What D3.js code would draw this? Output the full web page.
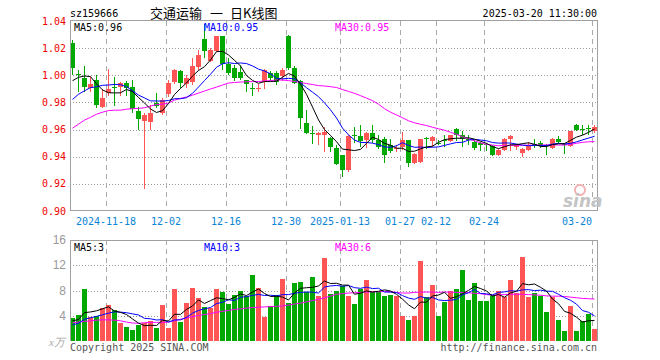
<!DOCTYPE html>
<html lang="zh">
<head>
<meta charset="utf-8">
<title>交通运输 日K线图</title>
<script src="https://d3js.org/d3.v7.min.js"></script>
<style>
body { margin: 0; background: #fff; }
svg { font-family: "DejaVu Sans Mono", monospace; font-size: 10px; shape-rendering: crispEdges; }
</style>
</head>
<body>
<script>
// trading days, 2024-11-08 .. 2025-03-20
const dates = [
  "11-08","11-11","11-12","11-13","11-14","11-15","11-18","11-19","11-20","11-21","11-22","11-25","11-26","11-27","11-28","11-29",
  "12-02","12-03","12-04","12-05","12-06","12-09","12-10","12-11","12-12","12-13","12-16","12-17","12-18","12-19","12-20",
  "12-23","12-24","12-25","12-26","12-27","12-30","12-31",
  "01-02","01-03","01-06","01-07","01-08","01-09","01-10","01-13","01-14","01-15","01-16","01-17","01-20","01-21","01-22","01-23","01-24","01-27",
  "02-05","02-06","02-07","02-10","02-11","02-12","02-13","02-14","02-17","02-18","02-19","02-20","02-21","02-24","02-25","02-26","02-27","02-28",
  "03-03","03-04","03-05","03-06","03-07","03-10","03-11","03-12","03-13","03-14","03-17","03-18","03-19","03-20"
];

const opens = [1.0237,1.001,0.9983,0.9904,0.9965,0.9768,0.9867,0.9912,0.9911,0.9941,0.9911,0.974,0.9662,0.9657,0.9793,0.9719,
  0.9859,0.9953,1.0035,0.9933,0.9953,1.0064,1.0269,1.0106,1.018,1.0286,1.008,1.0052,1.0022,0.9965,0.9905,0.9906,0.995,1.002,1.002,0.9993,1.0286,1.0052,
  0.9956,0.9652,0.9578,0.9558,0.9558,0.9538,0.9464,0.941,0.9299,0.956,0.9556,0.9523,0.9572,0.9523,0.953,0.949,0.9459,0.9472,
  0.9523,0.9356,0.9361,0.9541,0.9514,0.95,0.9525,0.9514,0.9605,0.9558,0.953,0.9508,0.9501,0.9494,0.9481,0.9415,0.9452,0.9528,
  0.9472,0.9425,0.945,0.9494,0.9503,0.9484,0.9464,0.9528,0.9496,0.948,0.9637,0.9602,0.9613,0.9588];
const highs = [1.0257,1.004,1.0069,0.999,1.0,0.99,1.0044,0.999,0.9953,0.996,0.9965,0.9766,0.9723,0.978,0.9867,0.983,
  0.9965,1.0047,1.004,1.0,1.0126,1.0188,1.038,1.02,1.0286,1.0286,1.0126,1.0077,1.0077,0.9965,0.994,0.9936,1.005,1.003,1.003,1.0054,1.0298,1.0069,
  0.9967,0.9743,0.963,0.9583,0.962,0.9545,0.9484,0.941,0.9558,0.962,0.9637,0.9583,0.9634,0.9558,0.9548,0.953,0.9484,0.958,
  0.9523,0.9425,0.9533,0.9543,0.955,0.9523,0.956,0.9563,0.9612,0.9593,0.9558,0.9525,0.9508,0.95,0.9489,0.9459,0.9536,0.956,
  0.9494,0.9464,0.9506,0.953,0.9513,0.9494,0.9536,0.9553,0.95,0.9592,0.9642,0.9637,0.9632,0.9632];
const lows = [1.0002,0.988,0.9874,0.9874,0.976,0.9756,0.9847,0.9775,0.9847,0.985,0.972,0.9595,0.9163,0.9595,0.9756,0.9706,
  0.9842,0.9933,0.9904,0.9904,0.993,1.004,1.013,1.0101,1.0175,1.004,1.0003,0.9957,0.9967,0.9874,0.985,0.9874,0.99,0.9955,0.993,0.996,1.004,0.9933,
  0.9607,0.957,0.9491,0.9486,0.9437,0.9437,0.9336,0.925,0.9291,0.9503,0.9469,0.9461,0.9498,0.946,0.9356,0.9425,0.9435,0.945,
  0.9326,0.9348,0.9356,0.9454,0.9472,0.9484,0.947,0.9509,0.9516,0.9472,0.9484,0.9451,0.9444,0.9444,0.9407,0.9407,0.944,0.9444,
  0.9452,0.9395,0.9444,0.9464,0.9464,0.9415,0.9457,0.9494,0.9418,0.9474,0.9588,0.9558,0.9558,0.9575];
const closes = [1.0052,1.0,0.9916,0.9936,0.978,0.983,0.9896,0.9908,0.9941,0.9904,0.975,0.968,0.9706,0.9719,0.9775,0.9817,
  0.9941,1.004,0.9941,0.9978,1.0072,1.0146,1.018,1.0188,1.0286,1.008,1.0015,0.998,0.9983,0.9933,0.99,0.991,1.0042,0.9983,0.995,1.0042,1.0052,0.9941,
  0.9686,0.9578,0.9573,0.9578,0.9583,0.9472,0.9348,0.9299,0.9553,0.9555,0.9514,0.9572,0.9523,0.9472,0.9412,0.9444,0.9462,0.9523,
  0.9356,0.9417,0.953,0.9538,0.9546,0.9497,0.952,0.9558,0.9563,0.9535,0.9525,0.9464,0.9484,0.9484,0.9415,0.9452,0.9533,0.9553,
  0.949,0.9455,0.9481,0.9481,0.9476,0.9479,0.9528,0.951,0.9492,0.9592,0.96,0.96,0.9612,0.9617];
// volume, unit: 万
const volumes = [3.6,4.19,8.27,3.85,3.99,5.24,5.73,4.95,2.78,2.27,1.7,2.5,2.9,3.1,2.1,5.75,
  2.0,8.27,2.95,6.07,8.42,6.86,5.45,5.2,8.27,7.83,5.92,7.3,7.93,7.06,10.45,8.42,3.73,5.58,7.25,9.82,6.07,9.25,
  9.36,7.7,10.13,7.17,13.14,7.4,7.9,8.64,7.17,5.92,8.27,9.69,7.75,7.75,7.07,7.33,7.07,3.93,
  3.25,3.93,12.67,6.96,8.9,3.93,6.13,7.9,8.27,11.26,6.54,9.21,6.28,6.28,7.23,7.9,6.96,9.69,
  7.6,13.3,6.96,7.59,7.07,4.66,6.96,3.25,1.52,5.6,1.52,3.09,4.29,1.83];

// closes / volumes before the first visible day (for MA5 / MA10)
const prevCloses = [0.962,0.966,0.970,0.972,0.972,0.9875,0.9866,0.9961,1.0046];
const prevVolumes = [1.6,1.8,1.7,1.7,2.7,3.19,2.77,3.35,3.09];

// MA30 lines
const ma30Price = [0.961,0.964,0.967,0.969,0.9713,0.9728,0.974,0.9743,0.9743,0.975,0.9754,0.9756,0.9761,0.9773,0.9784,0.9787,
  0.9795,0.9817,0.983,0.984,0.9854,0.9869,0.9884,0.9899,0.9913,0.9928,0.9943,0.9947,0.995,0.9953,0.9953,0.9954,0.9958,0.9961,0.9965,0.9965,0.9961,0.9954,
  0.9947,0.9939,0.9932,0.9924,0.9921,0.9916,0.991,0.9895,0.9881,0.9867,0.985,0.9832,0.9813,0.9787,0.9754,0.9728,0.9708,0.9687,
  0.9665,0.965,0.9639,0.963,0.9617,0.9606,0.9595,0.958,0.9565,0.9547,0.9532,0.9517,0.9502,0.9491,0.9486,0.9481,0.9483,0.9484,
  0.9484,0.9485,0.9485,0.9486,0.9486,0.9487,0.9487,0.9486,0.9486,0.9491,0.9499,0.9506,0.951,0.9511];
const ma30Volume = [2.9,3.0,3.1,3.2,3.3,3.35,3.35,3.3,3.2,3.0,2.85,2.8,2.9,2.95,2.95,2.95,
  3.0,3.2,3.45,3.65,3.85,4.05,4.2,4.35,4.55,4.7,4.85,5.0,5.1,5.2,5.3,5.35,5.4,5.45,5.5,5.55,5.7,5.85,
  6.0,6.2,6.4,6.6,6.85,7.1,7.4,7.5,7.6,7.65,7.7,7.75,7.8,7.8,7.85,7.8,7.7,7.6,
  7.6,7.7,7.75,7.75,7.75,7.7,7.75,7.75,7.7,7.7,7.65,7.55,7.5,7.35,7.25,7.3,7.35,7.4,
  7.4,7.4,7.35,7.3,7.25,7.15,7.1,7.1,7.05,6.95,6.85,6.75,6.7,6.65];

const tickDates = ["11-18","12-02","12-16","12-30","01-13","01-27","02-12","02-24","03-20"];
const tickLabels = ["2024-11-18","12-02","12-16","12-30","2025-01-13","01-27","02-12","02-24","03-20"];
const priceTicks = [0.90,0.92,0.94,0.96,0.98,1.00,1.02,1.04];
const volumeTicks = [4,8,12,16];

const RED = "#ff5555", GREEN = "#00a800", GRID = "#aaaaaa";

function movingAvg(prev, vals, n) {
  const all = prev.concat(vals);
  return vals.map((v, i) => d3.mean(all.slice(i + prev.length - n + 1, i + prev.length + 1)));
}
const ma5Price = movingAvg(prevCloses, closes, 5);
const ma10Price = movingAvg(prevCloses, closes, 10);
const ma5Volume = movingAvg(prevVolumes, volumes, 5);
const ma10Volume = movingAvg(prevVolumes, volumes, 10);
const trunc = (v, k) => Math.floor(v * Math.pow(10, k) + 1e-9) / Math.pow(10, k);

const W = 660, H = 360;
const left = 70, right = 597;
const svg = d3.select("body").append("svg").attr("width", W).attr("height", H);

const x = d3.scaleBand().domain(d3.range(dates.length)).range([left, left + 6 * dates.length]);
const yP = d3.scaleLinear().domain([0.90, 1.04]).range([211, 21]);
const yV = d3.scaleLinear().domain([0, 16]).range([341, 240]);
const idx = d => dates.indexOf(d);

// ---------- header ----------
svg.append("text").attr("x", 70).attr("y", 17).attr("fill", "#000").text("sz159666");
const title = svg.append("text").attr("y", 18)
  .style("font-family", "'Noto Sans CJK SC', sans-serif").style("font-size", "13px")
  .attr("fill", "#000");
title.append("tspan").attr("x", 150).text("交通运输");
title.append("tspan").attr("x", 210).text("一");
title.append("tspan").attr("x", 230).text("日K线图");
svg.append("text").attr("x", 597).attr("y", 17).attr("text-anchor", "end").attr("fill", "#000")
  .text("2025-03-20 11:30:00");

// ---------- grids ----------
function grid(yScale, ticks, y0, y1) {
  svg.append("g").selectAll("line").data(ticks).join("line")
    .attr("x1", left).attr("x2", right + 1)
    .attr("y1", d => Math.round(yScale(d)) + 0.5).attr("y2", d => Math.round(yScale(d)) + 0.5)
    .attr("stroke", "#999").attr("stroke-dasharray", "1,2");
  svg.append("g").selectAll("line").data(tickDates).join("line")
    .attr("x1", d => x(idx(d)) + 0.5).attr("x2", d => x(idx(d)) + 0.5)
    .attr("y1", y0).attr("y2", y1)
    .attr("stroke", GRID).attr("stroke-dasharray", "5,4");
}
grid(yP, priceTicks.slice(1, -1), 21, 211);
grid(yV, volumeTicks.slice(0, -1), 240, 341);

// ---------- axis labels ----------
svg.append("g").selectAll("text").data(priceTicks).join("text")
  .attr("x", 66).attr("y", d => yP(d)).attr("dy", "0.35em")
  .attr("text-anchor", "end").attr("fill", "#ee0000")
  .text(d => d.toFixed(2));

svg.append("g").selectAll("text").data(volumeTicks).join("text")
  .attr("x", 66).attr("y", d => yV(d)).attr("dy", "0.35em")
  .attr("text-anchor", "end").attr("fill", "#999")
  .style("font-family", "'Liberation Sans', Arial, sans-serif").style("font-size", "12px")
  .text(d => d);
svg.append("text").attr("x", 49).attr("y", 346).attr("fill", "#aaa")
  .style("font-family", "'Liberation Serif', serif").style("font-size", "11px").style("font-style", "italic")
  .text("x万");

svg.append("g").selectAll("text").data(tickDates).join("text")
  .attr("x", d => x(idx(d)))
  .attr("y", 225)
  .attr("text-anchor", d => x(idx(d)) > right - 20 ? "end" : "middle")
  .attr("fill", "#0a84d6")
  .text((d, i) => tickLabels[i]);

// ---------- candles ----------
const candles = svg.append("g").selectAll("g").data(dates).join("g")
  .attr("fill", (d, i) => closes[i] >= opens[i] ? RED : GREEN)
  .attr("stroke", (d, i) => closes[i] >= opens[i] ? RED : GREEN);
candles.append("line")
  .attr("x1", (d, i) => x(i) + 2.5).attr("x2", (d, i) => x(i) + 2.5)
  .attr("y1", (d, i) => yP(highs[i])).attr("y2", (d, i) => yP(lows[i]));
candles.append("rect")
  .attr("stroke", "none")
  .attr("x", (d, i) => x(i)).attr("width", 5)
  .attr("y", (d, i) => yP(Math.max(opens[i], closes[i])))
  .attr("height", (d, i) => Math.max(1, Math.abs(yP(opens[i]) - yP(closes[i]))));

// ---------- volume bars ----------
svg.append("g").selectAll("rect").data(volumes).join("rect")
  .attr("x", (d, i) => x(i)).attr("width", 5)
  .attr("y", d => yV(d)).attr("height", d => yV(0) - yV(d))
  .attr("fill", (d, i) => closes[i] >= opens[i] ? RED : GREEN);

// ---------- moving averages ----------
function maLine(vals, yScale, color) {
  svg.append("path").datum(vals)
    .attr("fill", "none").attr("stroke", color).attr("stroke-width", 1)
    .style("shape-rendering", "auto")
    .attr("d", d3.line().x((d, i) => x(i) + 2.5).y(d => yScale(d)));
}
maLine(ma30Price, yP, "#ff00ff");
maLine(ma10Price, yP, "#0000ff");
maLine(ma5Price, yP, "#000000");
maLine(ma30Volume, yV, "#ff00ff");
maLine(ma10Volume, yV, "#0000ff");
maLine(ma5Volume, yV, "#000000");

// ---------- frames ----------
svg.append("rect").attr("x", 70.5).attr("y", 20.5).attr("width", right - 70).attr("height", 190)
  .attr("fill", "none").attr("stroke", "#a0a0a0").attr("stroke-width", 1.5);
svg.append("path").attr("d", `M70.5,341V240.5H${right + 0.5}V341`)
  .attr("fill", "none").attr("stroke", "#a0a0a0").attr("stroke-width", 1.5);

// ---------- MA legends ----------
const last = dates.length - 1;
const legends = [
  {x: 74, c: "#000", p: "MA5:" + trunc(ma5Price[last], 2).toFixed(2), v: "MA5:" + Math.floor(ma5Volume[last])},
  {x: 204, c: "#0000ff", p: "MA10:" + trunc(ma10Price[last], 2).toFixed(2), v: "MA10:" + Math.floor(ma10Volume[last])},
  {x: 335, c: "#ff00ff", p: "MA30:" + trunc(ma30Price[last], 2).toFixed(2), v: "MA30:" + Math.floor(ma30Volume[last])}
];
svg.append("g").selectAll("text").data(legends).join("text")
  .attr("x", d => d.x).attr("y", 31).attr("fill", d => d.c).text(d => d.p);
svg.append("g").selectAll("text").data(legends).join("text")
  .attr("x", d => d.x).attr("y", 251).attr("fill", d => d.c).text(d => d.v);

// ---------- watermark / footer ----------
svg.append("circle").attr("cx", 580).attr("cy", 190).attr("r", 5)
  .attr("fill", "none").attr("stroke", "#f3b0b0").attr("stroke-width", 2).style("shape-rendering", "auto");
svg.append("text").attr("x", 563).attr("y", 207)
  .style("font-family", "'DejaVu Sans', sans-serif").style("font-size", "17px")
  .style("font-weight", "bold").style("font-style", "italic")
  .attr("fill", "#c4c4c4").text("sina");

svg.append("text").attr("x", 70).attr("y", 351).attr("fill", "#555").text("Copyright 2025 SINA.COM");
svg.append("text").attr("x", 597).attr("y", 351).attr("text-anchor", "end").attr("fill", "#555")
  .text("http://finance.sina.com.cn");
</script>
</body>
</html>
